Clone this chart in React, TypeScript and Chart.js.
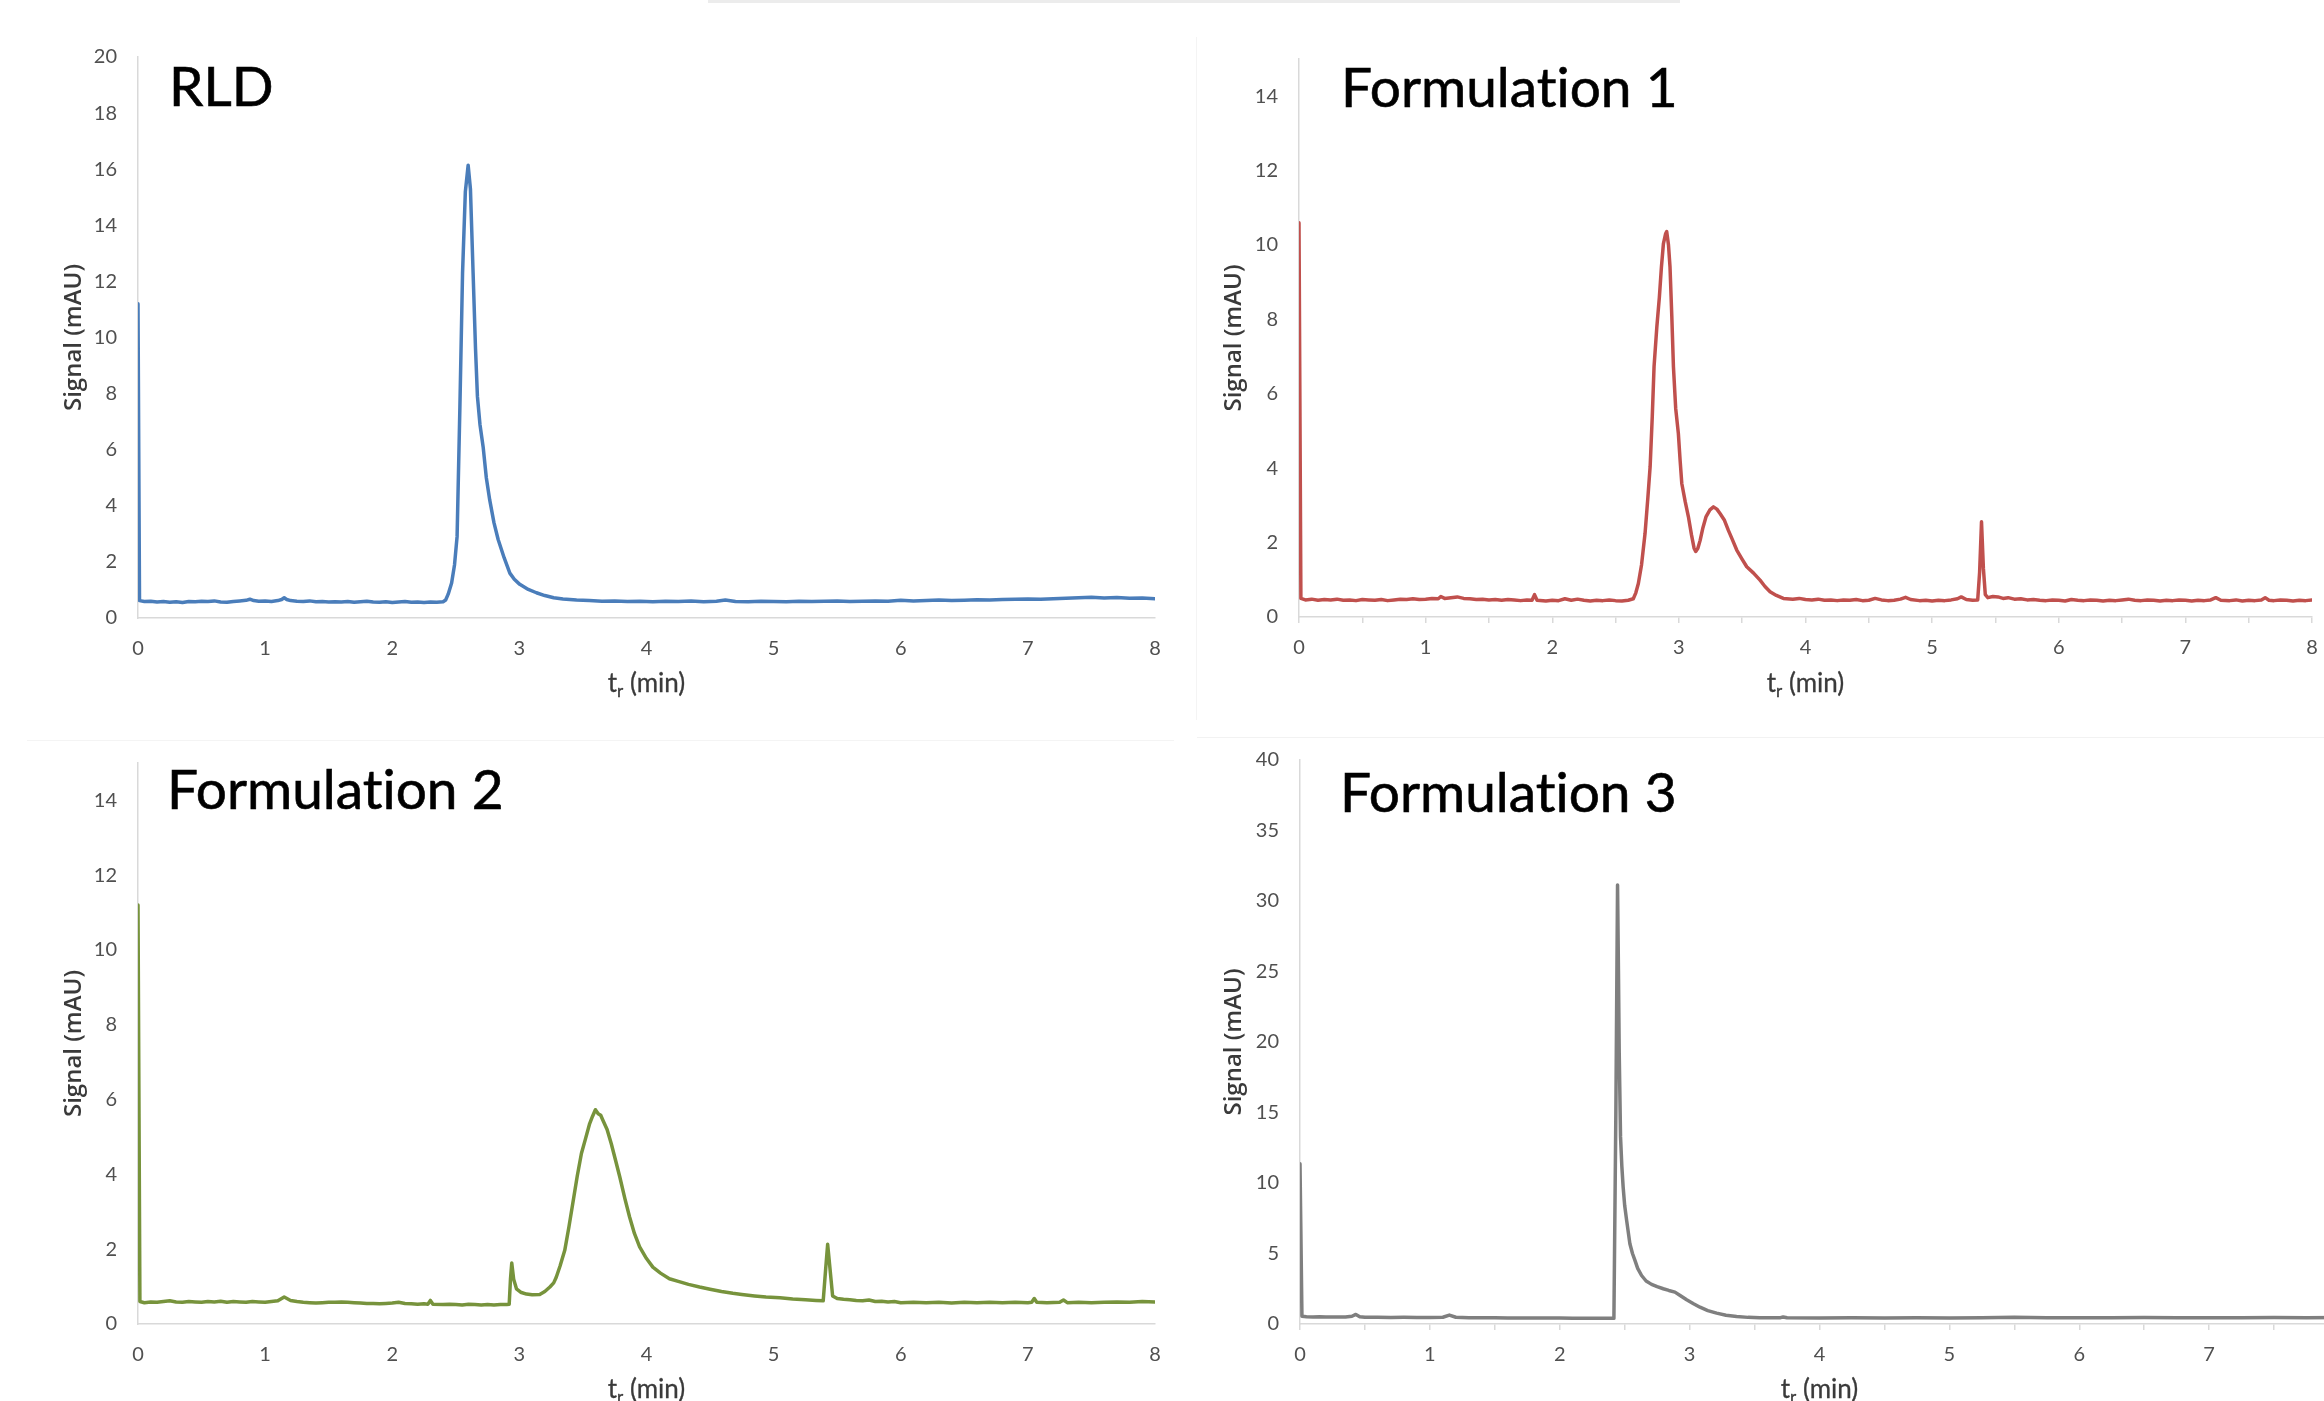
import React, { useEffect, useRef } from 'react';
import { Chart, registerables } from 'chart.js';

Chart.register(...registerables);

type Pt = [number, number];

// ---- DATA (retention time in min, signal in mAU) ----
const rldTrace: Pt[] = [
  [0, 11.2], [0.012, 0.62], [0.05, 0.59], [0.1, 0.6], [0.15, 0.57], [0.2, 0.59], [0.25, 0.56], [0.3, 0.58], [0.35, 0.55], [0.4, 0.59],
  [0.45, 0.58], [0.5, 0.6], [0.55, 0.59], [0.6, 0.61], [0.65, 0.57], [0.7, 0.56], [0.75, 0.59], [0.8, 0.61], [0.85, 0.63], [0.88, 0.67],
  [0.91, 0.62], [0.95, 0.6], [1.0, 0.61], [1.05, 0.59], [1.1, 0.62], [1.13, 0.66], [1.15, 0.72], [1.17, 0.66], [1.2, 0.62], [1.25, 0.6],
  [1.3, 0.59], [1.35, 0.61], [1.4, 0.58], [1.45, 0.59], [1.5, 0.57], [1.55, 0.58], [1.6, 0.57], [1.65, 0.59], [1.7, 0.56], [1.75, 0.58],
  [1.8, 0.6], [1.85, 0.57], [1.9, 0.56], [1.95, 0.58], [2.0, 0.55], [2.05, 0.57], [2.1, 0.59], [2.15, 0.56], [2.2, 0.57], [2.25, 0.55],
  [2.3, 0.57], [2.35, 0.56], [2.4, 0.58], [2.42, 0.64], [2.44, 0.85], [2.467, 1.25], [2.49, 1.9], [2.51, 2.9], [2.532, 7.5], [2.553, 12.3],
  [2.575, 15.2], [2.597, 16.14], [2.615, 15.3], [2.636, 12.3], [2.655, 9.6], [2.67, 7.9], [2.69, 6.9], [2.715, 6.1], [2.74, 5.0], [2.767, 4.2],
  [2.8, 3.4], [2.833, 2.8], [2.88, 2.15], [2.925, 1.6], [2.96, 1.38], [3.003, 1.2], [3.07, 1.02], [3.134, 0.9], [3.2, 0.8], [3.27, 0.72],
  [3.343, 0.68], [3.45, 0.64], [3.55, 0.62], [3.65, 0.6], [3.75, 0.61], [3.85, 0.59], [3.95, 0.6], [4.05, 0.58], [4.15, 0.6], [4.25, 0.59],
  [4.35, 0.61], [4.45, 0.58], [4.55, 0.6], [4.62, 0.64], [4.7, 0.59], [4.8, 0.58], [4.9, 0.6], [5.0, 0.59], [5.1, 0.58], [5.2, 0.6],
  [5.3, 0.59], [5.4, 0.6], [5.5, 0.61], [5.6, 0.59], [5.7, 0.6], [5.8, 0.61], [5.9, 0.6], [6.0, 0.63], [6.1, 0.61], [6.2, 0.62],
  [6.3, 0.64], [6.4, 0.62], [6.5, 0.63], [6.6, 0.65], [6.7, 0.64], [6.8, 0.66], [6.9, 0.67], [7.0, 0.68], [7.1, 0.67], [7.2, 0.69],
  [7.3, 0.7], [7.4, 0.72], [7.5, 0.74], [7.6, 0.71], [7.7, 0.73], [7.8, 0.7], [7.9, 0.71], [8.0, 0.69],
];

const formulation1Trace: Pt[] = [
  [0, 10.6], [0.015, 0.5], [0.05, 0.46], [0.1, 0.48], [0.15, 0.45], [0.2, 0.47], [0.25, 0.46], [0.3, 0.48], [0.35, 0.45], [0.4, 0.46],
  [0.45, 0.44], [0.5, 0.47], [0.55, 0.46], [0.6, 0.45], [0.65, 0.47], [0.7, 0.44], [0.75, 0.46], [0.8, 0.48], [0.85, 0.47], [0.9, 0.49],
  [0.95, 0.47], [1.0, 0.48], [1.05, 0.5], [1.1, 0.49], [1.12, 0.55], [1.15, 0.5], [1.2, 0.52], [1.25, 0.54], [1.3, 0.5], [1.35, 0.49],
  [1.4, 0.47], [1.45, 0.48], [1.5, 0.46], [1.55, 0.47], [1.6, 0.45], [1.65, 0.47], [1.7, 0.46], [1.75, 0.44], [1.8, 0.46], [1.84, 0.45],
  [1.86, 0.6], [1.88, 0.45], [1.95, 0.43], [2.0, 0.45], [2.05, 0.44], [2.1, 0.49], [2.15, 0.45], [2.2, 0.48], [2.25, 0.45], [2.3, 0.43],
  [2.35, 0.45], [2.4, 0.44], [2.45, 0.46], [2.5, 0.44], [2.55, 0.43], [2.6, 0.45], [2.64, 0.49], [2.66, 0.65], [2.68, 0.9], [2.705, 1.4],
  [2.733, 2.25], [2.755, 3.2], [2.773, 4.04], [2.79, 5.4], [2.804, 6.73], [2.826, 7.8], [2.846, 8.6], [2.862, 9.4], [2.878, 10.04], [2.895, 10.3],
  [2.904, 10.36], [2.918, 10.0], [2.93, 9.41], [2.944, 8.1], [2.957, 6.73], [2.975, 5.6], [2.996, 4.93], [3.01, 4.2], [3.023, 3.59], [3.05, 3.1],
  [3.075, 2.7], [3.1, 2.2], [3.12, 1.85], [3.133, 1.76], [3.15, 1.85], [3.168, 2.06], [3.19, 2.4], [3.215, 2.7], [3.245, 2.88], [3.273, 2.96],
  [3.3, 2.9], [3.325, 2.78], [3.36, 2.6], [3.391, 2.33], [3.42, 2.1], [3.457, 1.8], [3.5, 1.55], [3.536, 1.35], [3.59, 1.18], [3.641, 0.99],
  [3.68, 0.82], [3.72, 0.68], [3.77, 0.58], [3.825, 0.5], [3.9, 0.48], [3.95, 0.5], [4.0, 0.47], [4.05, 0.46], [4.1, 0.48], [4.15, 0.45],
  [4.2, 0.46], [4.25, 0.44], [4.3, 0.46], [4.35, 0.45], [4.4, 0.47], [4.45, 0.44], [4.5, 0.45], [4.55, 0.5], [4.6, 0.46], [4.65, 0.44],
  [4.7, 0.45], [4.75, 0.48], [4.79, 0.53], [4.83, 0.47], [4.9, 0.44], [4.95, 0.45], [5.0, 0.43], [5.05, 0.45], [5.1, 0.44], [5.15, 0.46],
  [5.2, 0.49], [5.23, 0.54], [5.27, 0.47], [5.32, 0.45], [5.36, 0.46], [5.375, 1.2], [5.39, 2.56], [5.405, 1.3], [5.42, 0.6], [5.44, 0.52],
  [5.48, 0.55], [5.52, 0.54], [5.56, 0.5], [5.6, 0.52], [5.65, 0.48], [5.7, 0.49], [5.75, 0.46], [5.8, 0.47], [5.85, 0.45], [5.9, 0.44],
  [5.95, 0.46], [6.0, 0.45], [6.05, 0.43], [6.1, 0.47], [6.15, 0.45], [6.2, 0.44], [6.25, 0.46], [6.3, 0.45], [6.35, 0.43], [6.4, 0.45],
  [6.45, 0.44], [6.5, 0.46], [6.55, 0.48], [6.6, 0.45], [6.65, 0.44], [6.7, 0.46], [6.75, 0.45], [6.8, 0.43], [6.85, 0.45], [6.9, 0.44],
  [6.95, 0.46], [7.0, 0.45], [7.05, 0.43], [7.1, 0.45], [7.15, 0.44], [7.2, 0.46], [7.24, 0.52], [7.28, 0.45], [7.35, 0.44], [7.4, 0.46],
  [7.45, 0.43], [7.5, 0.45], [7.55, 0.44], [7.6, 0.46], [7.63, 0.52], [7.66, 0.45], [7.7, 0.44], [7.75, 0.46], [7.8, 0.45], [7.85, 0.43],
  [7.9, 0.45], [7.95, 0.44], [8.0, 0.46],
];

const formulation2Trace: Pt[] = [
  [0, 11.2], [0.015, 0.6], [0.05, 0.57], [0.1, 0.59], [0.15, 0.58], [0.2, 0.6], [0.25, 0.62], [0.3, 0.59], [0.35, 0.58], [0.4, 0.6],
  [0.45, 0.59], [0.5, 0.58], [0.55, 0.6], [0.6, 0.59], [0.65, 0.61], [0.7, 0.58], [0.75, 0.6], [0.8, 0.59], [0.85, 0.58], [0.9, 0.6],
  [0.95, 0.59], [1.0, 0.58], [1.05, 0.6], [1.1, 0.62], [1.15, 0.72], [1.2, 0.63], [1.25, 0.6], [1.3, 0.58], [1.35, 0.57], [1.4, 0.56],
  [1.45, 0.57], [1.5, 0.58], [1.55, 0.58], [1.6, 0.59], [1.65, 0.58], [1.7, 0.57], [1.75, 0.56], [1.8, 0.55], [1.85, 0.55], [1.9, 0.54],
  [1.95, 0.55], [2.0, 0.56], [2.05, 0.58], [2.1, 0.55], [2.15, 0.54], [2.2, 0.53], [2.25, 0.54], [2.28, 0.53], [2.3, 0.63], [2.32, 0.53],
  [2.4, 0.52], [2.45, 0.53], [2.5, 0.52], [2.55, 0.51], [2.6, 0.53], [2.65, 0.52], [2.7, 0.51], [2.75, 0.52], [2.8, 0.51], [2.85, 0.52],
  [2.9, 0.52], [2.92, 0.53], [2.93, 1.2], [2.94, 1.63], [2.955, 1.2], [2.977, 0.94], [3.01, 0.85], [3.056, 0.8], [3.1, 0.78], [3.16, 0.79],
  [3.2, 0.87], [3.24, 0.99], [3.27, 1.1], [3.29, 1.25], [3.32, 1.55], [3.357, 1.97], [3.39, 2.6], [3.42, 3.22], [3.455, 3.95], [3.488, 4.56],
  [3.52, 4.95], [3.553, 5.36], [3.575, 5.55], [3.598, 5.73], [3.62, 5.62], [3.64, 5.58], [3.657, 5.45], [3.69, 5.2], [3.723, 4.82], [3.755, 4.4],
  [3.79, 3.93], [3.83, 3.35], [3.867, 2.86], [3.905, 2.42], [3.946, 2.06], [4.0, 1.75], [4.05, 1.52], [4.11, 1.36], [4.18, 1.21], [4.25, 1.14],
  [4.33, 1.06], [4.417, 0.99], [4.5, 0.93], [4.59, 0.87], [4.679, 0.82], [4.75, 0.79], [4.85, 0.75], [4.94, 0.72], [5.05, 0.7], [5.15, 0.67],
  [5.25, 0.65], [5.334, 0.63], [5.39, 0.62], [5.41, 1.5], [5.425, 2.13], [5.44, 1.6], [5.464, 0.75], [5.5, 0.68], [5.55, 0.66], [5.6, 0.65],
  [5.65, 0.63], [5.7, 0.62], [5.75, 0.64], [5.8, 0.6], [5.85, 0.61], [5.9, 0.59], [5.95, 0.6], [6.0, 0.57], [6.1, 0.58], [6.2, 0.57],
  [6.3, 0.58], [6.4, 0.56], [6.5, 0.58], [6.6, 0.57], [6.7, 0.58], [6.8, 0.57], [6.9, 0.58], [7.0, 0.57], [7.03, 0.58], [7.05, 0.68],
  [7.07, 0.58], [7.15, 0.57], [7.25, 0.58], [7.28, 0.64], [7.31, 0.57], [7.4, 0.58], [7.5, 0.57], [7.6, 0.58], [7.7, 0.59], [7.8, 0.58],
  [7.9, 0.6], [8.0, 0.59],
];

const formulation3Trace: Pt[] = [
  [0, 11.37], [0.015, 0.55], [0.05, 0.52], [0.1, 0.5], [0.15, 0.51], [0.2, 0.5], [0.25, 0.49], [0.3, 0.5], [0.35, 0.49], [0.4, 0.55],
  [0.43, 0.68], [0.46, 0.52], [0.5, 0.48], [0.6, 0.47], [0.7, 0.46], [0.8, 0.47], [0.9, 0.46], [1.0, 0.46], [1.1, 0.48], [1.15, 0.63],
  [1.2, 0.48], [1.3, 0.45], [1.4, 0.44], [1.5, 0.44], [1.6, 0.43], [1.7, 0.43], [1.8, 0.42], [1.9, 0.42], [2.0, 0.42], [2.1, 0.41],
  [2.2, 0.41], [2.3, 0.4], [2.417, 0.4], [2.432, 15.0], [2.445, 31.14], [2.452, 25.0], [2.458, 19.19], [2.468, 13.27], [2.478, 11.2], [2.488, 9.72],
  [2.5, 8.4], [2.515, 7.35], [2.54, 5.69], [2.56, 5.0], [2.579, 4.51], [2.6, 3.95], [2.63, 3.44], [2.665, 3.05], [2.707, 2.81], [2.75, 2.65],
  [2.797, 2.5], [2.84, 2.38], [2.887, 2.26], [2.93, 2.0], [2.977, 1.72], [3.03, 1.44], [3.08, 1.19], [3.14, 0.95], [3.208, 0.77], [3.28, 0.62],
  [3.362, 0.53], [3.45, 0.47], [3.54, 0.44], [3.7, 0.45], [3.72, 0.5], [3.75, 0.44], [4.0, 0.43], [4.25, 0.44], [4.5, 0.43], [4.75, 0.44],
  [5.0, 0.43], [5.25, 0.44], [5.5, 0.47], [5.75, 0.44], [6.0, 0.44], [6.25, 0.45], [6.5, 0.46], [6.75, 0.44], [7.0, 0.45], [7.25, 0.44],
  [7.5, 0.46], [7.75, 0.45], [8.0, 0.46],
];

const panelTitles = ['RLD', 'Formulation 1', 'Formulation 2', 'Formulation 3'];
const timeMajorTicks = [0, 1, 2, 3, 4, 5, 6, 7, 8];
const timeTickLabels = ['0', '1', '2', '3', '4', '5', '6', '7', '8'];
const timeMinorTicks = [0.5, 1.5, 2.5, 3.5, 4.5, 5.5, 6.5, 7.5];
const rldSignalTicks = [0, 2, 4, 6, 8, 10, 12, 14, 16, 18, 20];
const f1SignalTicks = [0, 2, 4, 6, 8, 10, 12, 14];
const f2SignalTicks = [0, 2, 4, 6, 8, 10, 12, 14];
const f3SignalTicks = [0, 5, 10, 15, 20, 25, 30, 35, 40];
const yAxisTitle = 'Signal (mAU)';

// ---- LAYOUT ----
const Y_W = 110;
const X_H = 90;
const PAD_T = 20;
const PAD_R = 20;
const TICK_COLOR = '#505050';
const AXIS_COLOR = '#d9d9d9';

interface PanelProps {
  trace: Pt[];
  color: string;
  yMax: number;
  yTicks: number[];
  minorTicks: boolean;
  area: [number, number, number, number]; // left, top, right, bottom
  yTitleX: number;
}

function Panel(p: PanelProps) {
  const ref = useRef<HTMLCanvasElement>(null);
  const [aL, aT, aR, aB] = p.area;
  const left = aL - Y_W;
  const top = aT - PAD_T;
  const width = Math.round(aR + PAD_R - left);
  const height = Math.round(aB + X_H - top);

  useEffect(() => {
    if (!ref.current) return;
    const xTicks = p.minorTicks
      ? [...timeMajorTicks, ...timeMinorTicks].sort((a, b) => a - b)
      : timeMajorTicks.slice();
    const titleSize = 24;
    const titleLH = titleSize * 1.2;
    const zeroPad = (s: any) => {
      s.paddingTop = 0;
      s.paddingBottom = 0;
      s.paddingLeft = 0;
      s.paddingRight = 0;
    };
    const chart = new Chart(ref.current, {
      type: 'line',
      data: {
        datasets: [
          {
            data: p.trace.map(([x, y]) => ({ x, y })),
            borderColor: p.color,
            borderWidth: 3.5,
            pointRadius: 0,
            pointHoverRadius: 0,
            tension: 0,
            fill: false,
            borderJoinStyle: 'round',
            borderCapStyle: 'round',
          },
        ],
      },
      options: {
        responsive: false,
        animation: false,
        devicePixelRatio: 1,
        events: [],
        layout: { padding: { top: PAD_T, right: PAD_R, left: 0, bottom: 0 } },
        plugins: {
          legend: { display: false },
          tooltip: { enabled: false },
        },
        scales: {
          x: {
            type: 'linear',
            min: 0,
            max: 8,
            afterBuildTicks: (s: any) => {
              s.ticks = xTicks.map((v) => ({ value: v }));
            },
            afterFit: (s: any) => {
              s.height = X_H;
              zeroPad(s);
            },
            ticks: {
              autoSkip: false,
              maxRotation: 0,
              minRotation: 0,
              padding: p.minorTicks ? 13 : 19,
              color: TICK_COLOR,
              font: { family: 'Lato', size: 20 },
              callback: (v: any) => {
                const i = timeMajorTicks.indexOf(Number(v));
                return i >= 0 ? timeTickLabels[i] : '';
              },
            },
            grid: {
              drawOnChartArea: false,
              drawTicks: p.minorTicks,
              tickLength: 6,
              color: AXIS_COLOR,
              lineWidth: 1.5,
            },
            border: { color: AXIS_COLOR, width: 1.5 },
          },
          y: {
            type: 'linear',
            min: 0,
            max: p.yMax,
            afterBuildTicks: (s: any) => {
              s.ticks = p.yTicks.map((v) => ({ value: v }));
            },
            afterFit: (s: any) => {
              s.width = Y_W;
              zeroPad(s);
            },
            ticks: {
              autoSkip: false,
              padding: 21,
              color: TICK_COLOR,
              font: { family: 'Lato', size: 20 },
              callback: (v: any) => String(v),
            },
            grid: { drawOnChartArea: false, drawTicks: false, color: AXIS_COLOR },
            border: { color: AXIS_COLOR, width: 1.5 },
            title: {
              display: true,
              text: yAxisTitle,
              color: '#3a3a3a',
              font: { family: 'Open Sans', size: titleSize, weight: '600' },
              padding: { top: p.yTitleX - left - titleLH / 2, bottom: 0 },
            },
          },
        },
      } as any,
    });
    let alive = true;
    if ((document as any).fonts && (document as any).fonts.ready) {
      (document as any).fonts.ready.then(() => {
        if (alive) chart.update();
      });
    }
    return () => {
      alive = false;
      chart.destroy();
    };
  }, []);

  return (
    <canvas
      ref={ref}
      width={width}
      height={height}
      style={{ position: 'absolute', left, top, width, height, display: 'block' }}
    />
  );
}

function PanelTitle({ text, left, top }: { text: string; left: number; top: number }) {
  return (
    <div
      style={{
        position: 'absolute',
        left,
        top,
        fontFamily: 'Lato, sans-serif',
        fontSize: 55,
        lineHeight: '55px',
        color: '#000',
        whiteSpace: 'nowrap',
        fontVariantLigatures: 'none',
        WebkitTextStroke: '0.6px #000',
      }}
    >
      {text}
    </div>
  );
}

function TimeTitle({ cx, cy }: { cx: number; cy: number }) {
  return (
    <div
      style={{
        position: 'absolute',
        left: cx - 100,
        top: cy - 17,
        width: 200,
        textAlign: 'center',
        fontFamily: 'Lato, sans-serif',
        fontSize: 26,
        lineHeight: '32px',
        color: '#3a3a3a',
        whiteSpace: 'nowrap',
        WebkitTextStroke: '0.3px #3a3a3a',
      }}
    >
      t<span style={{ fontSize: '0.66em', position: 'relative', top: '0.28em' }}>r</span> (min)
    </div>
  );
}

export default function App() {
  return (
    <div
      style={{
        position: 'fixed',
        left: 0,
        top: 0,
        width: 2324,
        height: 1401,
        overflow: 'hidden',
        background: '#ffffff',
      }}
    >
      {/* faint frame remnants */}
      <div style={{ position: 'absolute', left: 708, top: 0, width: 972, height: 3, background: '#ececec' }} />
      <div style={{ position: 'absolute', left: 1196, top: 37, width: 1, height: 683, background: '#f4f4f4' }} />
      <div style={{ position: 'absolute', left: 1197, top: 737, width: 1127, height: 1, background: '#f2f2f2' }} />
      <div style={{ position: 'absolute', left: 27, top: 740, width: 1147, height: 1, background: '#f4f4f4' }} />

      <Panel trace={rldTrace} color="#4a7dba" yMax={20} yTicks={rldSignalTicks} minorTicks={false} area={[138, 57, 1155, 618]} yTitleX={74} />
      <Panel trace={formulation1Trace} color="#c0504d" yMax={15} yTicks={f1SignalTicks} minorTicks={true} area={[1299, 59, 2312, 617]} yTitleX={1234.5} />
      <Panel trace={formulation2Trace} color="#77933c" yMax={15} yTicks={f2SignalTicks} minorTicks={false} area={[138, 763, 1155, 1323.5]} yTitleX={74} />
      <Panel trace={formulation3Trace} color="#7f7f7f" yMax={40} yTicks={f3SignalTicks} minorTicks={true} area={[1300, 760, 2339, 1323.5]} yTitleX={1234.5} />

      <PanelTitle text={panelTitles[0]} left={169} top={58} />
      <PanelTitle text={panelTitles[1]} left={1341} top={59} />
      <PanelTitle text={panelTitles[2]} left={167} top={761} />
      <PanelTitle text={panelTitles[3]} left={1340} top={764} />

      <TimeTitle cx={646.5} cy={683} />
      <TimeTitle cx={1805.5} cy={683} />
      <TimeTitle cx={646.5} cy={1389} />
      <TimeTitle cx={1819.5} cy={1389} />
    </div>
  );
}
